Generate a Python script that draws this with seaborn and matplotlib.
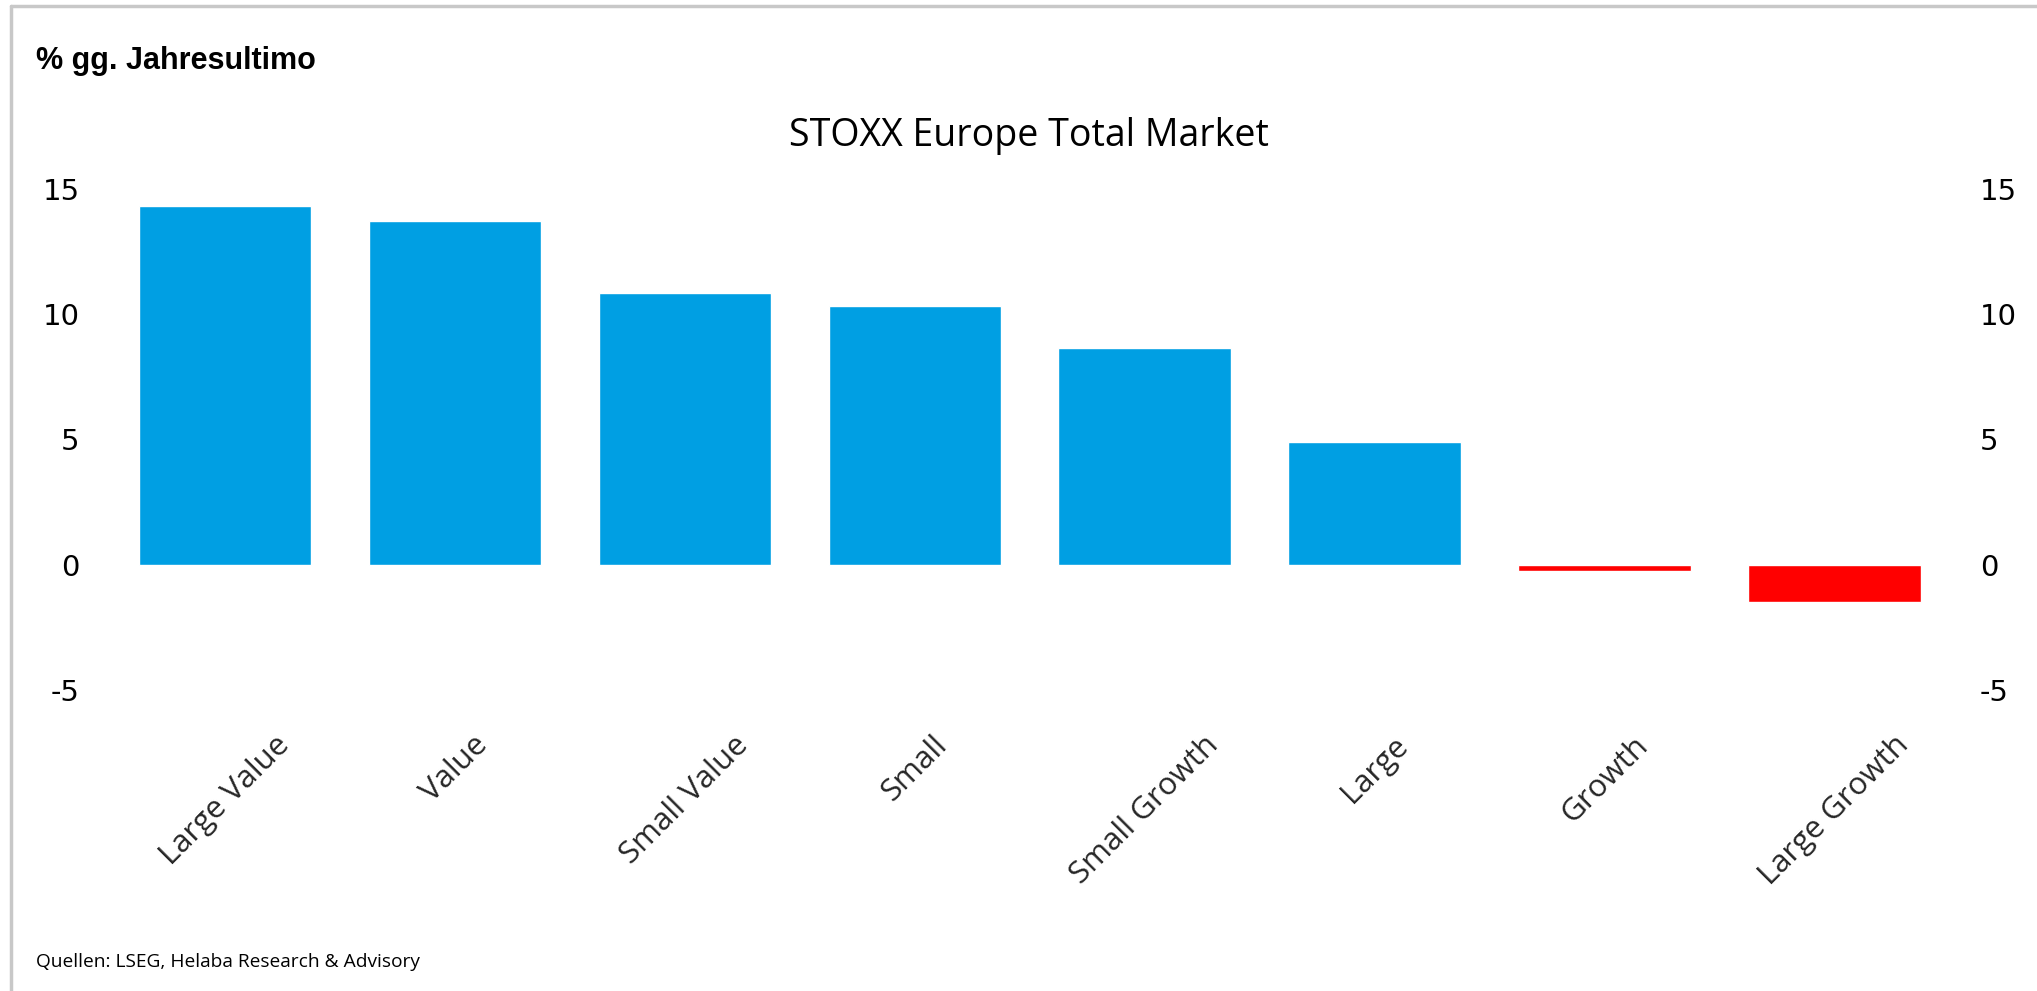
import matplotlib
matplotlib.use("Agg")
import matplotlib.pyplot as plt
from matplotlib.lines import Line2D
import seaborn as sns
import pandas as pd

# data (% vs. year end)
categories = ["Large Value", "Value", "Small Value", "Small", "Small Growth",
              "Large", "Growth", "Large Growth"]
values = [14.3, 13.7, 10.85, 10.3, 8.65, 4.9, -0.25, -1.5]
y_ticks = [-5, 0, 5, 10, 15]

title = "STOXX Europe Total Market"
unit_label = "% gg. Jahresultimo"
source = "Quellen: LSEG, Helaba Research & Advisory"

BLUE = "#009FE3"
RED = "#FF0000"

sns.set_theme(style="white")
plt.rcParams["font.family"] = ["DejaVu Sans"]

df = pd.DataFrame({"category": categories, "value": values})
colors = {c: (BLUE if v >= 0 else RED) for c, v in zip(categories, values)}

fig = plt.figure(figsize=(20.37, 9.91), dpi=100)
ax = fig.add_axes([0.054, 0.3037, 0.903, 0.506])

sns.barplot(data=df, x="category", y="value", hue="category", palette=colors,
            width=0.75, legend=False, ax=ax, saturation=1)

ax.set_ylim(-5, 15)
ax.set_xlim(-0.5, len(categories) - 0.5)
ax.set_yticks(y_ticks)
ax.set_yticklabels([str(t) for t in y_ticks])
ax.set_xlabel("")
ax.set_ylabel("")
for s in ax.spines.values():
    s.set_visible(False)

ax.tick_params(axis="y", length=0, labelsize=21, pad=22,
               labelleft=True, labelright=True, colors="black")
ax.tick_params(axis="x", length=0, pad=29)
for lbl in ax.get_xticklabels():
    lbl.set_rotation(45)
    lbl.set_fontfamily("Open Sans")
    lbl.set_fontsize(22.5)
    lbl.set_ha("center")
    lbl.set_va("top")

fig.text(1029 / 2037, 1 - 136 / 991, title, ha="center", va="center",
         fontsize=27, family="Open Sans", color="black")
fig.text(36 / 2037, 1 - 61 / 991, unit_label, ha="left", va="center",
         fontsize=22, family="Liberation Sans", weight="bold", color="black")
fig.text(36 / 2037, 1 - 962 / 991, source, ha="left", va="center",
         fontsize=13.8, family="Open Sans", color="black")

# light grey frame (only top and left edges visible in the source)
fig.add_artist(Line2D([11 / 2037, 11 / 2037], [0, 1 - 6 / 991],
                      transform=fig.transFigure, color="#c8c8c8", lw=2.5))
fig.add_artist(Line2D([11 / 2037, 1], [1 - 6 / 991, 1 - 6 / 991],
                      transform=fig.transFigure, color="#c8c8c8", lw=2.5))

fig.savefig("out.png", dpi=100, facecolor="white")
